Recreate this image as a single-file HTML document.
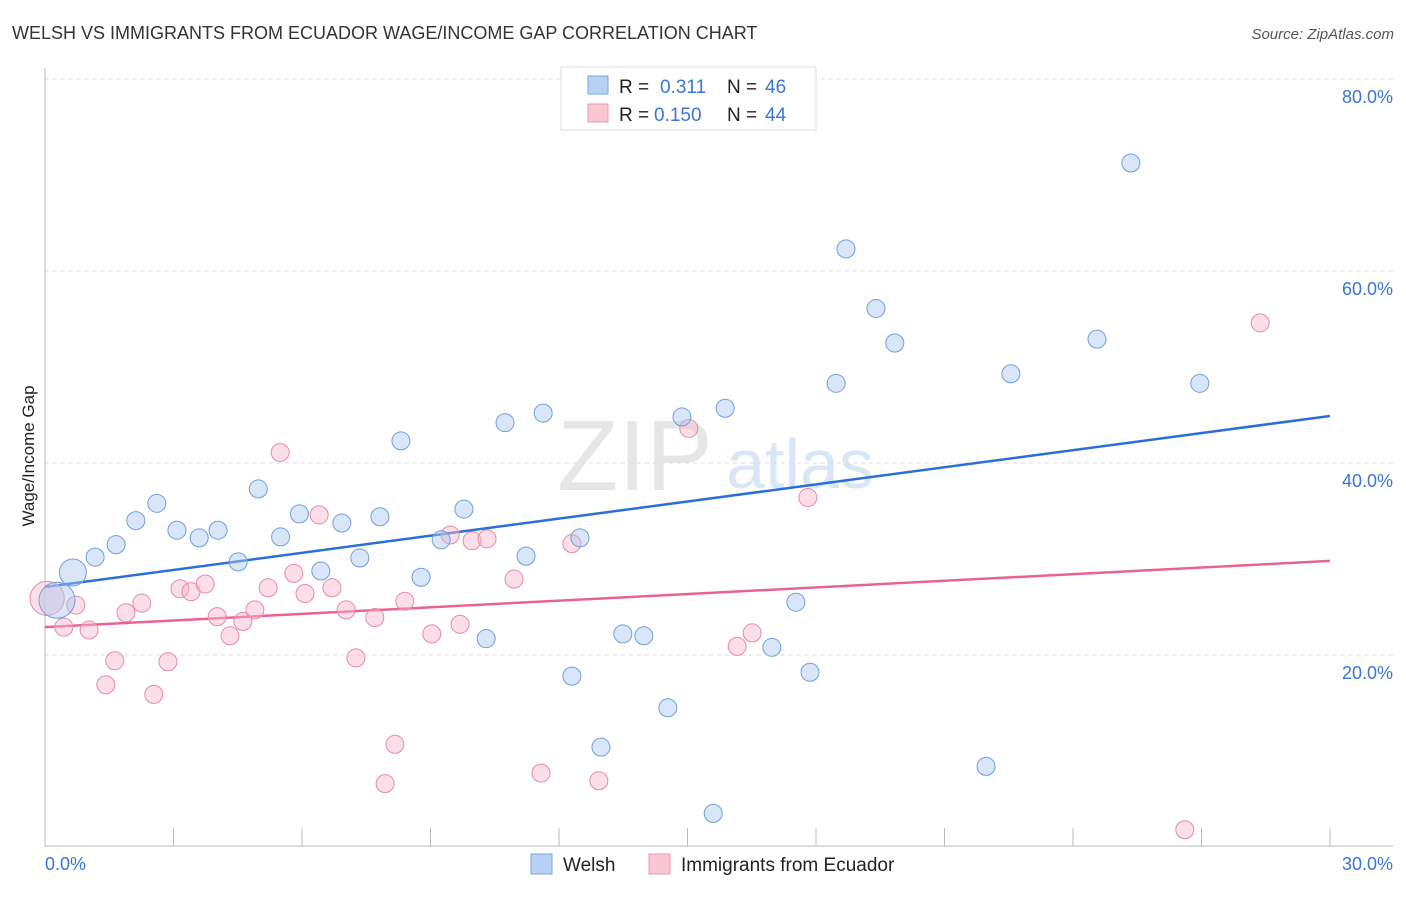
<!DOCTYPE html>
<html><head><meta charset="utf-8"><style>
body{margin:0;background:#fff;font-family:"Liberation Sans",sans-serif;}
svg text{font-family:"Liberation Sans",sans-serif;}
</style></head><body>
<svg id="chart" width="1406" height="892" viewBox="0 0 1406 892" xmlns="http://www.w3.org/2000/svg">
<text x="12" y="39" font-size="18" fill="#333">WELSH VS IMMIGRANTS FROM ECUADOR WAGE/INCOME GAP CORRELATION CHART</text>
<text x="1394" y="39" font-size="15" fill="#555" text-anchor="end" font-style="italic">Source: ZipAtlas.com</text>
<g>
<text x="635" y="490" font-size="100" fill="#e6e6e6" text-anchor="middle" font-family="Liberation Serif">ZIP</text>
<text x="800" y="488" font-size="70" fill="#d8e6f6" text-anchor="middle">atlas</text>
</g>
<g id="grid"></g>
<g id="axes"></g>
<text transform="translate(34,456) rotate(-90)" font-size="17" fill="#222" text-anchor="middle">Wage/Income Gap</text>
<g id="lines"></g>
<g id="points"></g>
<g>
<rect x="561" y="67" width="255" height="63" fill="#fff" stroke="#ddd"/>
<rect x="588" y="76" width="20" height="18" fill="#b7d1f3" stroke="#7aa6e0"/>
<rect x="588" y="104" width="20" height="18" fill="#f9c6d4" stroke="#ec9ab2"/>
<text x="619" y="93" font-size="19" fill="#222">R = </text><text x="660" y="93" font-size="19" fill="#3b75d6">0.311</text>
<text x="727" y="93" font-size="19" fill="#222">N = </text><text x="765" y="93" font-size="19" fill="#3b75d6">46</text>
<text x="619" y="121" font-size="19" fill="#222">R = </text><text x="654" y="121" font-size="19" fill="#3b75d6">0.150</text>
<text x="727" y="121" font-size="19" fill="#222">N = </text><text x="765" y="121" font-size="19" fill="#3b75d6">44</text>
</g>
<g>
<rect x="531" y="854" width="21" height="20" fill="#b7d1f3" stroke="#7aa6e0"/>
<text x="563" y="871" font-size="19" fill="#222">Welsh</text>
<rect x="649" y="854" width="21" height="20" fill="#f9c6d4" stroke="#ec9ab2"/>
<text x="681" y="871" font-size="19" fill="#222">Immigrants from Ecuador</text>
</g>
</svg>
<script>
const welshX=[0.28,0.65,1.17,1.66,2.12,2.61,3.08,3.60,4.04,4.51,4.98,5.50,5.94,6.44,6.93,7.35,7.82,8.31,8.78,9.25,9.78,10.30,10.74,11.23,11.63,12.30,12.49,12.98,13.49,13.98,14.54,14.87,15.60,15.88,16.97,17.53,17.86,18.47,18.70,19.40,19.84,21.97,22.55,24.56,25.35,26.96];
const welshY=[25.7,28.6,30.2,31.5,34.0,35.8,33.0,32.2,33.0,29.7,37.3,32.3,34.7,28.75,33.75,30.1,34.4,42.3,28.1,32.0,35.2,21.7,44.2,30.3,45.2,17.8,32.2,10.4,22.2,22.0,14.5,44.8,3.5,45.7,20.8,25.5,18.2,48.3,62.3,56.1,52.5,8.4,49.3,52.9,71.25,48.3];
const welshSize=[2,1.5,1,1,1,1,1,1,1,1,1,1,1,1,1,1,1,1,1,1,1,1,1,1,1,1,1,1,1,1,1,1,1,1,1,1,1,1,1,1,1,1,1,1,1,1];
const ecuX=[0.05,0.44,0.72,1.03,1.42,1.63,1.89,2.26,2.54,2.87,3.15,3.41,3.74,4.02,4.32,4.62,4.90,5.21,5.49,5.81,6.07,6.40,6.70,7.03,7.26,7.70,7.94,8.17,8.40,9.03,9.46,9.69,9.97,10.32,10.95,11.58,12.30,12.93,15.03,16.16,16.51,17.81,26.61,28.37];
const ecuY=[25.9,22.9,25.2,22.6,16.9,19.4,24.4,25.4,15.9,19.3,26.9,26.6,27.4,24.0,22.0,23.5,24.7,27.0,41.1,28.5,26.4,34.6,27.0,24.7,19.7,23.9,6.6,10.7,25.6,22.2,32.5,23.2,31.9,32.1,27.9,7.7,31.6,6.9,43.6,20.9,22.3,36.4,1.8,54.6];
const ecuSize=[1.9,1,1,1,1,1,1,1,1,1,1,1,1,1,1,1,1,1,1,1,1,1,1,1,1,1,1,1,1,1,1,1,1,1,1,1,1,1,1,1,1,1,1,1];
const welshTrend=[27.08,44.9];
const ecuTrend=[22.9,29.8];
const yTicks=[20,40,60,80];
const yTickLabels=["20.0%","40.0%","60.0%","80.0%"];
const xTicks=[3,6,9,12,15,18,21,24,27,30];
const xLabels=["0.0%","30.0%"];

const NS="http://www.w3.org/2000/svg";
const X=v=>45+v/30*1285;
const Y=v=>847-v/20*192;
function mk(tag,attrs,parent){const e=document.createElementNS(NS,tag);for(const k in attrs)e.setAttribute(k,attrs[k]);parent.appendChild(e);return e;}
const grid=document.getElementById('grid'),axes=document.getElementById('axes');
yTicks.forEach((t,i)=>{
 const l=mk('line',{x1:45,x2:1393,y1:Y(t),y2:Y(t),stroke:'#ddd','stroke-dasharray':'4,4'},grid);
 
 
 const tx=mk('text',{x:1393,y:Y(t)+24,'font-size':18,fill:'#3b75d6','text-anchor':'end'},axes);
 tx.textContent=yTickLabels[i];
 
 
});
const ax=mk('line',{x1:45,x2:45,y1:68,y2:847,stroke:'#bbb'},axes);


const bx=mk('line',{x1:45,x2:1393,y1:846,y2:846,stroke:'#bbb'},axes);


xTicks.forEach(t=>{
 const l=mk('line',{x1:X(t),x2:X(t),y1:828,y2:846,stroke:'#bbb'},axes);
 
 
});
const xl0=mk('text',{x:45,y:870,'font-size':18,fill:'#3b75d6'},axes);xl0.textContent=xLabels[0];


const xl1=mk('text',{x:1393,y:870,'font-size':18,fill:'#3b75d6','text-anchor':'end'},axes);xl1.textContent=xLabels[1];


const pts=document.getElementById('points');
function series(xs,ys,ss,fill,stroke,name){
 xs.forEach((x,i)=>{
  const c=mk('circle',{cx:X(x),cy:Y(ys[i]),r:9*ss[i],fill:fill,'fill-opacity':0.45,stroke:stroke,'stroke-width':1},pts);
  
  
 });
}
series(ecuX,ecuY,ecuSize,'#f7b6c9','#e98aa8','ecuador-point');
series(welshX,welshY,welshSize,'#a9c8f0','#6f9fde','welsh-point');
const lines=document.getElementById('lines');
const lw=mk('line',{x1:X(0),y1:Y(welshTrend[0]),x2:X(30),y2:Y(welshTrend[1]),stroke:'#2a6fd6','stroke-width':2.5},lines);


const le=mk('line',{x1:X(0),y1:Y(ecuTrend[0]),x2:X(30),y2:Y(ecuTrend[1]),stroke:'#e8648e','stroke-width':2.5},lines);


</script>
</body></html>
